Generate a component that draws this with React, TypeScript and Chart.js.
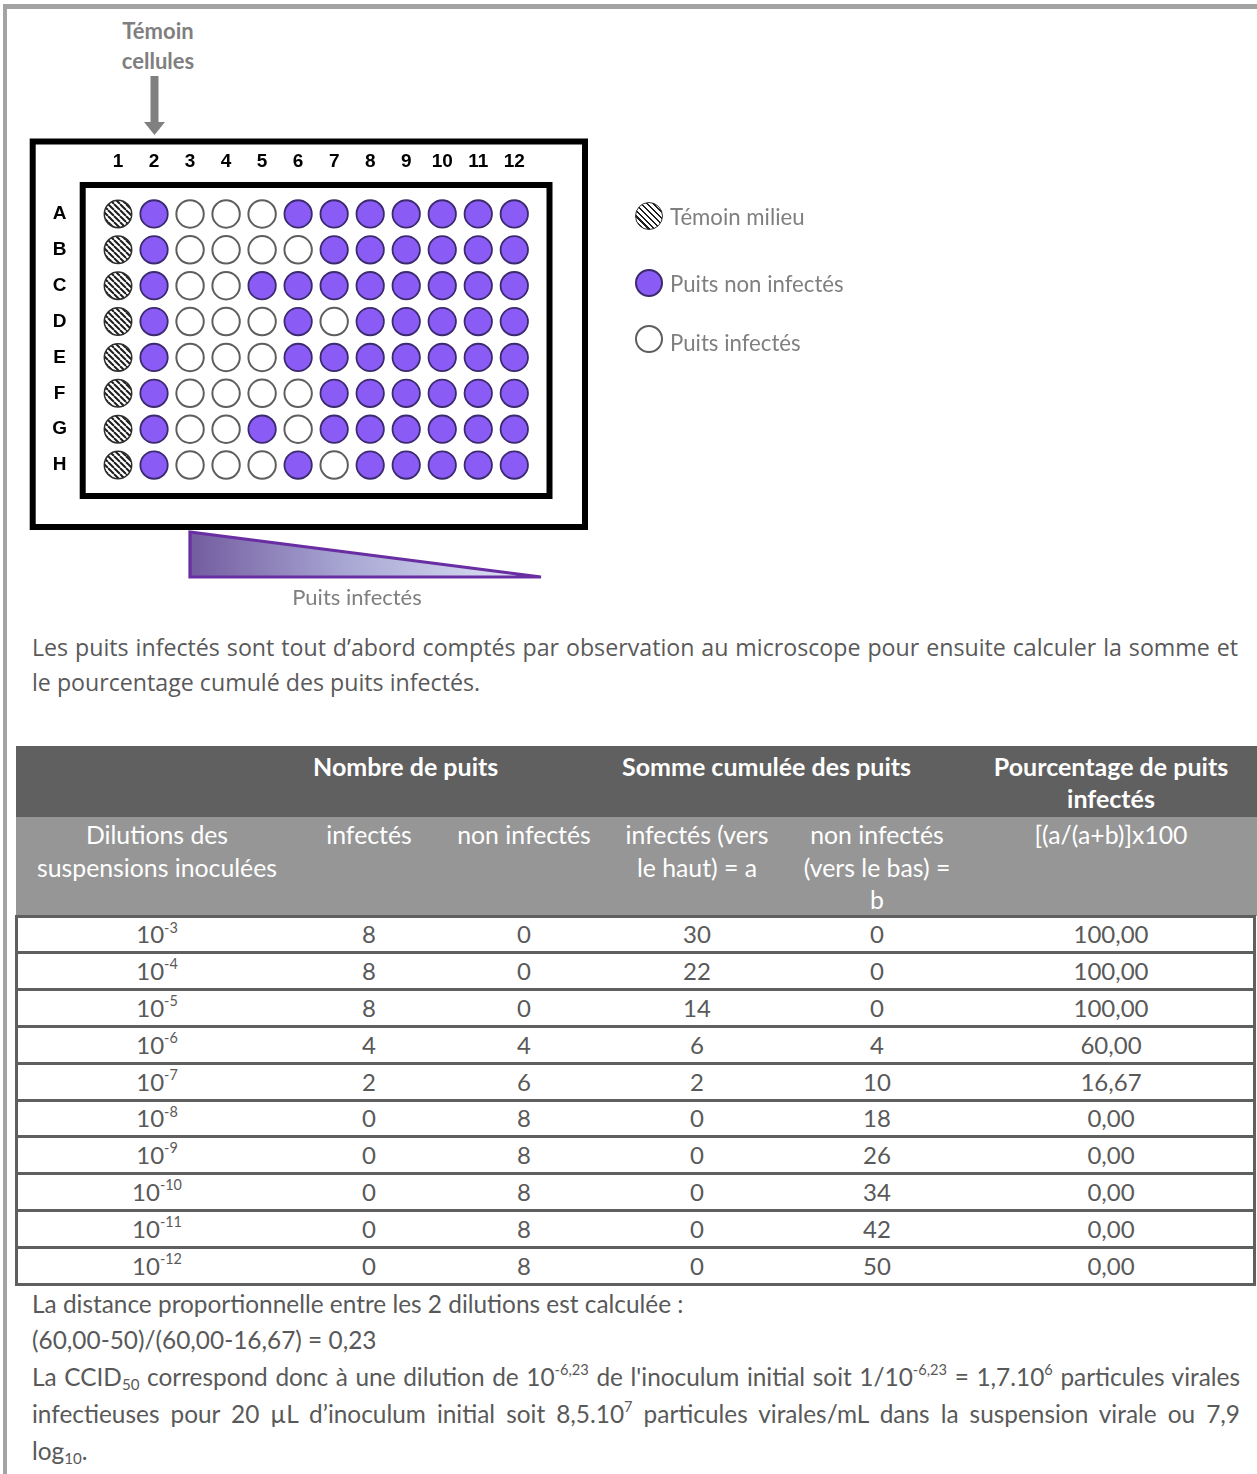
import React, { useEffect, useRef } from 'react';
import { Chart, registerables } from 'chart.js';

Chart.register(...registerables);

// ---------- data ----------
const COLUMNS = ['1', '2', '3', '4', '5', '6', '7', '8', '9', '10', '11', '12'];
const ROWS = ['A', 'B', 'C', 'D', 'E', 'F', 'G', 'H'];
// T = témoin milieu, N = puits non infecté, I = puits infecté
const ROW_A = ['T', 'N', 'I', 'I', 'I', 'N', 'N', 'N', 'N', 'N', 'N', 'N'];
const ROW_B = ['T', 'N', 'I', 'I', 'I', 'I', 'N', 'N', 'N', 'N', 'N', 'N'];
const ROW_C = ['T', 'N', 'I', 'I', 'N', 'N', 'N', 'N', 'N', 'N', 'N', 'N'];
const ROW_D = ['T', 'N', 'I', 'I', 'I', 'N', 'I', 'N', 'N', 'N', 'N', 'N'];
const ROW_E = ['T', 'N', 'I', 'I', 'I', 'N', 'N', 'N', 'N', 'N', 'N', 'N'];
const ROW_F = ['T', 'N', 'I', 'I', 'I', 'I', 'N', 'N', 'N', 'N', 'N', 'N'];
const ROW_G = ['T', 'N', 'I', 'I', 'N', 'I', 'N', 'N', 'N', 'N', 'N', 'N'];
const ROW_H = ['T', 'N', 'I', 'I', 'I', 'N', 'I', 'N', 'N', 'N', 'N', 'N'];
const PLATE = [ROW_A, ROW_B, ROW_C, ROW_D, ROW_E, ROW_F, ROW_G, ROW_H];

const LEGEND_LABELS = ['Témoin milieu', 'Puits non infectés', 'Puits infectés'];

const DILUTION_EXPONENTS = ['-3', '-4', '-5', '-6', '-7', '-8', '-9', '-10', '-11', '-12'];
const WELLS_INFECTED = [8, 8, 8, 4, 2, 0, 0, 0, 0, 0];
const WELLS_NOT_INFECTED = [0, 0, 0, 4, 6, 8, 8, 8, 8, 8];
const CUM_INFECTED = [30, 22, 14, 6, 2, 0, 0, 0, 0, 0];
const CUM_NOT_INFECTED = [0, 0, 0, 4, 10, 18, 26, 34, 42, 50];
const PERCENT_INFECTED = ['100,00', '100,00', '100,00', '60,00', '16,67', '0,00', '0,00', '0,00', '0,00', '0,00'];

// ---------- styles ----------
const FONT_C = "Lato, 'Noto Sans', sans-serif";
const FONT_O = "'Open Sans', 'Noto Sans', sans-serif";
const TEXT = '#595959';
const LIGHT = '#7f7f7f';
const PURPLE = '#8a5cf5';
const PURPLE_EDGE = '#3b2a6e';
const COL_CENTERS = [157, 369, 524, 697, 877, 1111];
const COL_EDGES = [17, 297, 441, 607, 787, 967, 1255];
const TABLE_ROW_TOP = 916;
const TABLE_ROW_H = 36.8;

function makeHatch(): CanvasPattern | string {
  const c = document.createElement('canvas');
  const s = 6;
  c.width = s;
  c.height = s;
  const g = c.getContext('2d');
  if (!g) return '#888';
  g.fillStyle = '#ffffff';
  g.fillRect(0, 0, s, s);
  g.strokeStyle = '#1e1e1e';
  g.lineWidth = 2;
  g.beginPath();
  for (const k of [-1, 0, 1]) {
    g.moveTo(k * s, 0);
    g.lineTo(k * s + s, s);
  }
  g.stroke();
  return g.createPattern(c, 'repeat') || '#888';
}

const framePlugin = {
  id: 'plateFrames',
  beforeDraw(chart: any) {
    const { ctx, chartArea: a } = chart;
    ctx.save();
    ctx.strokeStyle = '#000';
    ctx.lineWidth = 6;
    const ol = a.left - 67.3, ot = a.top - 54.5, or = a.right + 52.7, ob = a.bottom + 44;
    ctx.strokeRect(ol, ot, or - ol, ob - ot);
    const il = a.left - 17.3, it = a.top - 11, ir = a.right + 17.2, ib = a.bottom + 13;
    ctx.strokeRect(il, it, ir - il, ib - it);
    ctx.restore();
  },
};

function PlateChart() {
  const ref = useRef<HTMLCanvasElement | null>(null);
  useEffect(() => {
    const canvas = ref.current;
    if (!canvas) return;
    const hatch = makeHatch();
    const points = (code: string) => {
      const out: { x: string; y: string }[] = [];
      PLATE.forEach((row, r) =>
        row.forEach((c, i) => {
          if (c === code) out.push({ x: COLUMNS[i], y: ROWS[r] });
        })
      );
      return out;
    };
    const tickFont = { family: "'Liberation Sans', Arial, sans-serif", weight: 'bold' as const, size: 19 };
    const chart = new Chart(canvas, {
      type: 'scatter',
      data: {
        datasets: [
          {
            label: LEGEND_LABELS[0],
            data: points('T') as any,
            backgroundColor: hatch as any,
            borderColor: '#2e2e2e',
            borderWidth: 1.5,
            pointRadius: 13.7,
            pointHoverRadius: 13.7,
          },
          {
            label: LEGEND_LABELS[1],
            data: points('N') as any,
            backgroundColor: PURPLE,
            borderColor: PURPLE_EDGE,
            borderWidth: 1.8,
            pointRadius: 13.7,
            pointHoverRadius: 13.7,
          },
          {
            label: LEGEND_LABELS[2],
            data: points('I') as any,
            backgroundColor: '#ffffff',
            borderColor: '#5e5e5e',
            borderWidth: 2,
            pointRadius: 13.7,
            pointHoverRadius: 13.7,
          },
        ],
      },
      options: {
        responsive: false,
        maintainAspectRatio: false,
        animation: false,
        events: [],
        layout: { padding: { left: 40, top: 136, right: 167.7, bottom: 137 } },
        plugins: { legend: { display: false }, tooltip: { enabled: false }, title: { display: false } },
        scales: {
          x: {
            type: 'category',
            labels: COLUMNS,
            offset: true,
            position: 'top',
            grid: { display: false, drawTicks: false },
            border: { display: false },
            ticks: { font: tickFont, color: '#000', padding: 23, maxRotation: 0, autoSkip: false },
            afterFit: (s: any) => {
              s.height = 60;
            },
          },
          y: {
            type: 'category',
            labels: ROWS,
            offset: true,
            grid: { display: false, drawTicks: false },
            border: { display: false },
            ticks: { font: tickFont, color: '#000', padding: 33, crossAlign: 'center', autoSkip: false },
            afterFit: (s: any) => {
              s.width = 60;
            },
          },
        },
      } as any,
      plugins: [framePlugin],
    });
    return () => chart.destroy();
  }, []);
  return (
    <canvas
      ref={ref}
      width={700}
      height={620}
      style={{ position: 'absolute', left: 0, top: 0, width: 700, height: 620 }}
    />
  );
}

const Sup = ({ children }: { children: React.ReactNode }) => (
  <span style={{ fontSize: '0.6em', position: 'relative', top: '-0.75em', lineHeight: 0 }}>{children}</span>
);
const Sub = ({ children }: { children: React.ReactNode }) => (
  <span style={{ fontSize: '0.62em', position: 'relative', top: '0.3em', lineHeight: 0 }}>{children}</span>
);

function Line(props: {
  left: number;
  width: number;
  cy: number;
  size: number;
  align?: 'left' | 'center' | 'justify';
  family?: string;
  weight?: number;
  color?: string;
  children: React.ReactNode;
}) {
  const { left, width, cy, size, align = 'left', family = FONT_C, weight = 400, color = TEXT, children } = props;
  const h = Math.round(size * 1.35);
  return (
    <div
      style={{
        position: 'absolute',
        left,
        width,
        top: cy - h / 2,
        height: h,
        lineHeight: `${h}px`,
        fontSize: size,
        fontFamily: family,
        fontWeight: weight,
        color,
        textAlign: align,
        textAlignLast: align === 'justify' ? 'justify' : undefined,
        whiteSpace: 'nowrap',
      }}
    >
      {children}
    </div>
  );
}

function Well({ cx, cy, kind }: { cx: number; cy: number; kind: number }) {
  const base: React.CSSProperties = {
    position: 'absolute',
    left: cx - 14,
    top: cy - 14,
    width: 28,
    height: 28,
    borderRadius: '50%',
    boxSizing: 'border-box',
  };
  if (kind === 0)
    return (
      <div
        style={{
          ...base,
          border: '1.5px solid #2e2e2e',
          background: 'repeating-linear-gradient(45deg, #1e1e1e 0px, #1e1e1e 1.5px, #ffffff 1.5px, #ffffff 4.2px)',
        }}
      />
    );
  if (kind === 1) return <div style={{ ...base, border: `2px solid ${PURPLE_EDGE}`, background: PURPLE }} />;
  return <div style={{ ...base, border: '2px solid #5e5e5e', background: '#fff' }} />;
}

export default function App() {
  const legendY = [216, 282.5, 338.5];
  const legendTextY = [217, 284, 343];
  const dataRows = DILUTION_EXPONENTS.map((e, i) => [
    <>
      10<Sup>{e}</Sup>
    </>,
    String(WELLS_INFECTED[i]),
    String(WELLS_NOT_INFECTED[i]),
    String(CUM_INFECTED[i]),
    String(CUM_NOT_INFECTED[i]),
    PERCENT_INFECTED[i],
  ]);
  const cw = (i: number) => COL_EDGES[i + 1] - COL_EDGES[i];
  const H2 = 24.8;

  return (
    <div style={{ position: 'absolute', left: 0, top: 0, width: 1257, height: 1474, background: '#fff', overflow: 'hidden' }}>
      {/* outer frame */}
      <div style={{ position: 'absolute', left: 3, top: 4, width: 1260, height: 1480, borderTop: '5px solid #a3a3a3', borderLeft: '4px solid #a3a3a3' }} />

      {/* témoin cellules + arrow */}
      <Line left={78} width={160} cy={31} size={22} align="center" weight={700} color={LIGHT}>Témoin</Line>
      <Line left={78} width={160} cy={61} size={22} align="center" weight={700} color={LIGHT}>cellules</Line>
      <svg style={{ position: 'absolute', left: 140, top: 70, width: 30, height: 70 }} width={30} height={70}>
        <rect x={10.5} y={6} width={8} height={48} fill="#808080" />
        <polygon points="4,52 25,52 14.5,65" fill="#808080" />
      </svg>

      <PlateChart />

      {/* gradient triangle */}
      <svg style={{ position: 'absolute', left: 180, top: 525, width: 380, height: 60 }} width={380} height={60}>
        <defs>
          <linearGradient id="tri" x1="0" y1="0" x2="1" y2="0">
            <stop offset="0" stopColor="#735c9f" />
            <stop offset="0.45" stopColor="#a9a7d4" />
            <stop offset="1" stopColor="#e2e9f8" />
          </linearGradient>
        </defs>
        <polygon points="10,7 10,52 361,52" fill="url(#tri)" stroke="#6a2ea3" strokeWidth={3.2} strokeLinejoin="miter" />
      </svg>
      <Line left={257} width={200} cy={597} size={22} align="center" color={LIGHT}>Puits infectés</Line>

      {/* legend */}
      {LEGEND_LABELS.map((lab, i) => (
        <React.Fragment key={lab}>
          <Well cx={649} cy={legendY[i]} kind={i} />
          <Line left={670} width={300} cy={legendTextY[i]} size={22.2} color={LIGHT}>{lab}</Line>
        </React.Fragment>
      ))}

      {/* paragraph */}
      <Line left={32} width={1206} cy={647} size={23.2} family={FONT_O} align="justify">
        Les puits infectés sont tout d’abord comptés par observation au microscope pour ensuite calculer la somme et
      </Line>
      <Line left={32} width={1206} cy={682} size={23.2} family={FONT_O}>
        le pourcentage cumulé des puits infectés.
      </Line>

      {/* table header */}
      <div style={{ position: 'absolute', left: 16, top: 746, width: 1241, height: 71, background: '#606060' }} />
      <div style={{ position: 'absolute', left: 16, top: 817, width: 1241, height: 99, background: '#969696' }} />
      <Line left={313} width={300} cy={766} size={25} weight={700} color="#fff">Nombre de puits</Line>
      <Line left={622} width={340} cy={766} size={25} weight={700} color="#fff">Somme cumulée des puits</Line>
      <Line left={COL_EDGES[5]} width={cw(5)} cy={766} size={25} weight={700} color="#fff" align="center">Pourcentage de puits</Line>
      <Line left={COL_EDGES[5]} width={cw(5)} cy={798} size={25} weight={700} color="#fff" align="center">infectés</Line>

      <Line left={COL_EDGES[0]} width={cw(0)} cy={834} size={H2} color="#fff" align="center">Dilutions des</Line>
      <Line left={COL_EDGES[0]} width={cw(0)} cy={867} size={H2} color="#fff" align="center">suspensions inoculées</Line>
      <Line left={COL_EDGES[1]} width={cw(1)} cy={834} size={H2} color="#fff" align="center">infectés</Line>
      <Line left={COL_EDGES[2]} width={cw(2)} cy={834} size={H2} color="#fff" align="center">non infectés</Line>
      <Line left={COL_EDGES[3]} width={cw(3)} cy={834} size={H2} color="#fff" align="center">infectés (vers</Line>
      <Line left={COL_EDGES[3]} width={cw(3)} cy={867} size={H2} color="#fff" align="center">le haut) = a</Line>
      <Line left={COL_EDGES[4]} width={cw(4)} cy={834} size={H2} color="#fff" align="center">non infectés</Line>
      <Line left={COL_EDGES[4]} width={cw(4)} cy={867} size={H2} color="#fff" align="center">(vers le bas) =</Line>
      <Line left={COL_EDGES[4]} width={cw(4)} cy={899} size={H2} color="#fff" align="center">b</Line>
      <Line left={COL_EDGES[5]} width={cw(5)} cy={834} size={H2} color="#fff" align="center">[(a/(a+b)]x100</Line>

      {/* table body */}
      {Array.from({ length: DILUTION_EXPONENTS.length + 1 }, (_, k) => (
        <div key={'h' + k} style={{ position: 'absolute', left: 15, top: TABLE_ROW_TOP + k * TABLE_ROW_H - 1.5, width: 1241, height: 3, background: '#5f5f5f' }} />
      ))}
      <div style={{ position: 'absolute', left: 15, top: TABLE_ROW_TOP - 1.5, width: 3, height: TABLE_ROW_H * 10 + 3, background: '#5f5f5f' }} />
      <div style={{ position: 'absolute', left: 1253, top: TABLE_ROW_TOP - 1.5, width: 3, height: TABLE_ROW_H * 10 + 3, background: '#5f5f5f' }} />
      {dataRows.map((cells, i) =>
        cells.map((c, j) => (
          <Line key={i + '-' + j} left={COL_CENTERS[j] - 80} width={160} cy={TABLE_ROW_TOP + TABLE_ROW_H * (i + 0.5)} size={24} align="center">
            {c}
          </Line>
        ))
      )}

      {/* bottom text */}
      <Line left={32} width={1208} cy={1303} size={24.4}>La distance proportionnelle entre les 2 dilutions est calculée :</Line>
      <Line left={32} width={1208} cy={1339} size={24.4}>(60,00-50)/(60,00-16,67) = 0,23</Line>
      <Line left={32} width={1208} cy={1376} size={24.4} align="justify">
        La CCID<Sub>50</Sub> correspond donc à une dilution de 10<Sup>-6,23</Sup> de l'inoculum initial soit 1/10<Sup>-6,23</Sup> = 1,7.10<Sup>6</Sup> particules virales
      </Line>
      <Line left={32} width={1208} cy={1413} size={24.4} align="justify">
        infectieuses pour 20 µL d’inoculum initial soit 8,5.10<Sup>7</Sup> particules virales/mL dans la suspension virale ou 7,9
      </Line>
      <Line left={32} width={1208} cy={1450} size={24.4}>
        log<Sub>10</Sub>.
      </Line>
    </div>
  );
}
